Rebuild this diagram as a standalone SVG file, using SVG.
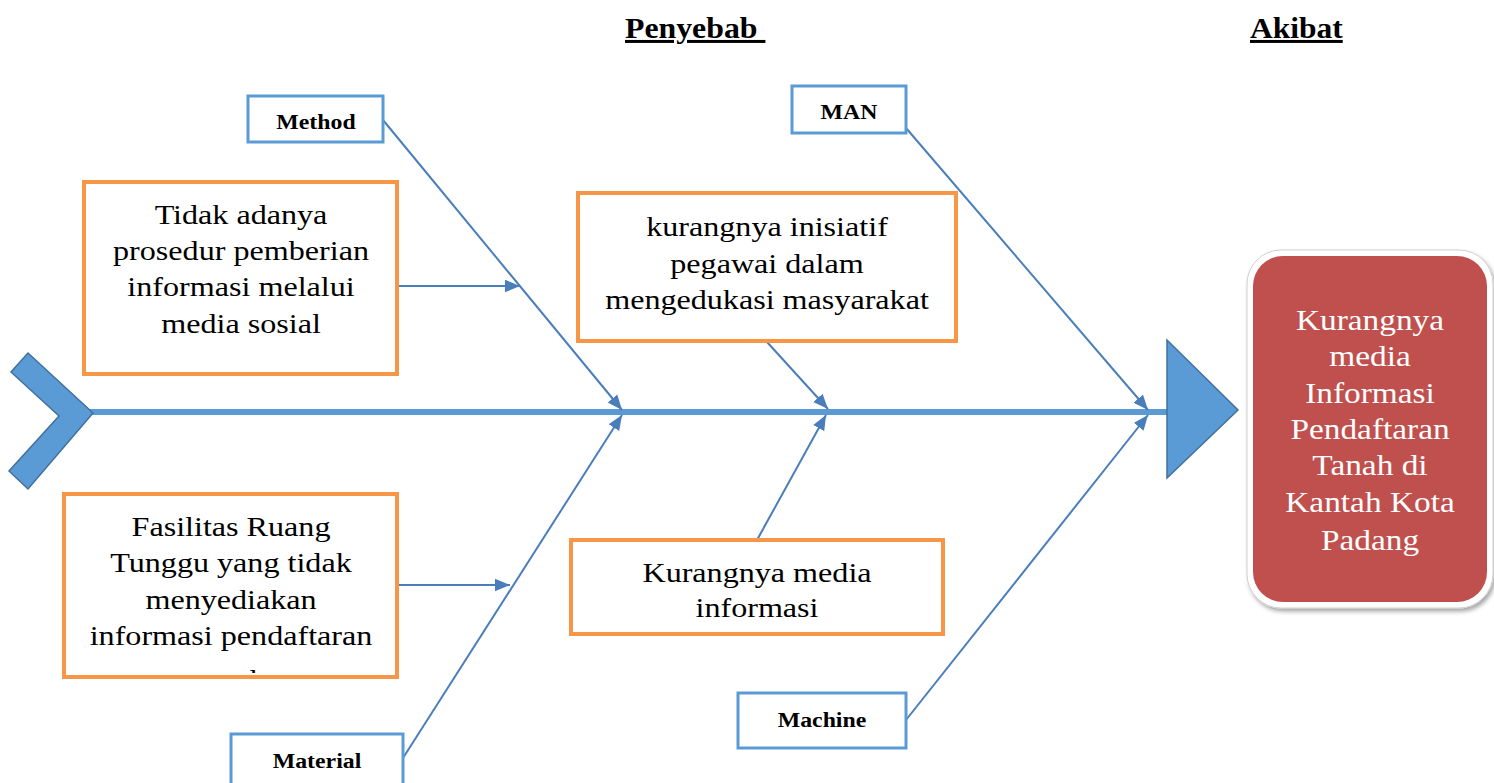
<svg xmlns="http://www.w3.org/2000/svg" width="1494" height="783" viewBox="0 0 1494 783">
<style>
.cat{fill:#fff;stroke:#5B9BD5;stroke-width:3}
.cause{fill:#fff;stroke:#F79646;stroke-width:4}
.lbl{font-family:"Liberation Serif",serif;font-weight:bold;font-size:20px;fill:#000;text-anchor:middle}
.txt{font-family:"Liberation Serif",serif;font-size:27px;fill:#000;text-anchor:middle}
.hdr{font-family:"Liberation Serif",serif;font-weight:bold;font-size:30px;fill:#000;text-decoration:underline;white-space:pre}
.con{stroke:#4A7EBB;stroke-width:2;fill:none}
.eff{font-family:"Liberation Serif",serif;font-size:29px;fill:#fff;text-anchor:middle}
</style>
<defs>
<marker id="ah" viewBox="0 0 12 10" refX="12" refY="5" markerWidth="15" markerHeight="13" markerUnits="userSpaceOnUse" orient="auto">
<path d="M0,0 L12,5 L0,10 Z" fill="#4A7EBB"/>
</marker>
<clipPath id="clip3"><rect x="-140" y="496" width="280" height="177"/></clipPath>
<filter id="sh" x="-10%" y="-10%" width="125%" height="125%">
<feDropShadow dx="2" dy="3" stdDeviation="2" flood-color="#000" flood-opacity="0.35"/>
</filter>
</defs>
<rect width="1494" height="783" fill="#fff"/>

<g id="headers">
<text class="hdr" x="0" y="38" transform="translate(625,0) scale(1.06,1)">Penyebab </text>
<text class="hdr" x="0" y="38" transform="translate(1250,0) scale(1.05,1)">Akibat</text>
</g>

<g id="spine">
<line x1="90" y1="412" x2="1170" y2="412" stroke="#5B9BD5" stroke-width="6"/>
<polygon points="28,353 93,413 28,489 9,471 59,416 11,372" fill="#5B9BD5" stroke="#41719C" stroke-width="1.5"/>
<polygon points="1167,340 1238,410 1167,478" fill="#5B9BD5" stroke="#41719C" stroke-width="1.5"/>
</g>

<g id="connectors">
<line class="con" x1="383" y1="120" x2="622" y2="410" marker-end="url(#ah)"/>
<line class="con" x1="403" y1="758" x2="622" y2="415" marker-end="url(#ah)"/>
<line class="con" x1="906" y1="128" x2="1148" y2="410" marker-end="url(#ah)"/>
<line class="con" x1="906" y1="720" x2="1148" y2="415" marker-end="url(#ah)"/>
<line class="con" x1="767" y1="342" x2="828" y2="409" marker-end="url(#ah)"/>
<line class="con" x1="757" y1="540" x2="826" y2="415" marker-end="url(#ah)"/>
<line class="con" x1="398" y1="286" x2="520" y2="286" marker-end="url(#ah)"/>
<line class="con" x1="398" y1="585" x2="510" y2="585" marker-end="url(#ah)"/>
</g>

<g id="method">
<rect class="cat" x="248" y="96" width="135" height="46"/>
<text class="lbl" x="0" y="129" transform="translate(316,0) scale(1.19,1)">Method</text>
</g>
<g id="man">
<rect class="cat" x="792" y="86" width="114" height="47"/>
<text class="lbl" x="0" y="119" transform="translate(849,0) scale(1.19,1)">MAN</text>
</g>
<g id="machine">
<rect class="cat" x="738" y="693" width="168" height="55"/>
<text class="lbl" x="0" y="727" transform="translate(822,0) scale(1.19,1)">Machine</text>
</g>
<g id="material">
<rect class="cat" x="231" y="734" width="172" height="60"/>
<text class="lbl" x="0" y="768" transform="translate(317,0) scale(1.19,1)">Material</text>
</g>

<g id="cause-prosedur">
<rect class="cause" x="84" y="182" width="313" height="192"/>
<g transform="translate(241,0) scale(1.19,1)">
<text class="txt" x="0" y="224">Tidak adanya</text>
<text class="txt" x="0" y="260">prosedur pemberian</text>
<text class="txt" x="0" y="296">informasi melalui</text>
<text class="txt" x="0" y="333">media sosial</text>
</g>
</g>

<g id="cause-inisiatif">
<rect class="cause" x="578" y="193" width="378" height="148"/>
<g transform="translate(767,0) scale(1.19,1)">
<text class="txt" x="0" y="236">kurangnya inisiatif</text>
<text class="txt" x="0" y="273">pegawai dalam</text>
<text class="txt" x="0" y="309">mengedukasi masyarakat</text>
</g>
</g>

<g id="cause-fasilitas">
<rect class="cause" x="64" y="494" width="333" height="183"/>
<g transform="translate(231,0) scale(1.19,1)">
<g clip-path="url(#clip3)">
<text class="txt" x="0" y="536">Fasilitas Ruang</text>
<text class="txt" x="0" y="572">Tunggu yang tidak</text>
<text class="txt" x="0" y="609">menyediakan</text>
<text class="txt" x="0" y="645">informasi pendaftaran</text>
<text class="txt" x="0" y="689">tanah</text>
</g>
</g>
</g>

<g id="cause-media">
<rect class="cause" x="571" y="540" width="372" height="94"/>
<g transform="translate(757,0) scale(1.19,1)">
<text class="txt" x="0" y="582">Kurangnya media</text>
<text class="txt" x="0" y="617">informasi</text>
</g>
</g>

<g id="effect">
<rect x="1247" y="250" width="246" height="358" rx="34" fill="#fff" stroke="#d0d0d0" stroke-width="1" filter="url(#sh)"/>
<rect x="1253" y="256" width="234" height="346" rx="30" fill="#C0504D"/>
<g transform="translate(1370,0) scale(1.15,1)">
<text class="eff" x="0" y="330">Kurangnya</text>
<text class="eff" x="0" y="366">media</text>
<text class="eff" x="0" y="403">Informasi</text>
<text class="eff" x="0" y="439">Pendaftaran</text>
<text class="eff" x="0" y="475">Tanah di</text>
<text class="eff" x="0" y="512">Kantah Kota</text>
<text class="eff" x="0" y="550">Padang</text>
</g>
</g>
</svg>
